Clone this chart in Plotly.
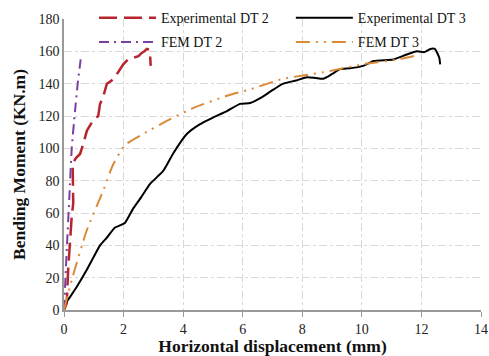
import plotly.graph_objects as go

# Experimental DT 2
exp2_x = [0, 0.05, 0.09, 0.14, 0.2, 0.26, 0.31, 0.3, 0.29, 0.4, 0.54, 0.65, 0.77, 0.9, 0.98, 1.15, 1.21, 1.3, 1.44, 1.6, 1.71, 1.85, 1.99, 2.15, 2.33, 2.5, 2.61, 2.7, 2.78, 2.86, 2.89, 2.91]
exp2_y = [0, 2, 4, 25, 45, 58, 66, 82, 90.5, 94, 96.5, 103, 111, 115, 117, 120, 127.5, 131, 140, 142, 144, 148, 152, 155, 156, 157, 159, 160, 161.5, 161, 158, 151]

# Experimental DT 3
exp3_x = [0, 0.05, 0.2, 0.45, 0.76, 1.0, 1.21, 1.45, 1.71, 1.9, 2.05, 2.33, 2.6, 2.89, 3.33, 3.67, 4.13, 4.57, 5.0, 5.47, 5.91, 6.25, 6.59, 7.0, 7.36, 7.8, 8.16, 8.45, 8.7, 9.0, 9.27, 9.6, 10.05, 10.4, 11.06, 11.5, 11.85, 12.1, 12.3, 12.45, 12.53, 12.6, 12.63]
exp3_y = [0, 4, 8, 15, 24.7, 33, 40, 45, 51, 52.5, 54, 63, 70, 78, 86, 97, 109, 115, 119, 123, 127.5, 128, 131, 136, 140, 142, 144, 143.5, 143, 146, 149, 149.5, 151, 154, 155, 158, 160, 159.5, 161.5, 161.5, 159, 156, 152]

# FEM DT 2
fem2_x = [0, 0.05, 0.1, 0.18, 0.26, 0.37, 0.46, 0.56]
fem2_y = [0, 20, 40, 70, 100, 123, 140, 155]

# FEM DT 3
fem3_x = [0, 0.26, 0.76, 1.32, 1.65, 2.05, 2.67, 3.45, 4.35, 5.47, 6.25, 7.36, 8.7, 10.05, 11.2, 11.96]
fem3_y = [0, 18.5, 49, 74, 90, 102, 109, 117, 125, 132.5, 136.5, 143, 147, 152, 155, 158]

FONT = "Liberation Serif, Times New Roman, serif"

fig = go.Figure()
fig.add_trace(go.Scatter(x=exp2_x, y=exp2_y, mode="lines", name="Experimental DT 2",
                         legend="legend", legendgroup="a",
                         line=dict(color="#B8242E", width=2.5, dash="18px,7px")))
fig.add_trace(go.Scatter(x=exp3_x, y=exp3_y, mode="lines", name="Experimental DT 3",
                         legend="legend2", legendgroup="c",
                         line=dict(color="#000000", width=2, shape="spline", smoothing=0.5)))
fig.add_trace(go.Scatter(x=fem2_x, y=fem2_y, mode="lines", name="FEM DT 2",
                         legend="legend", legendgroup="b",
                         line=dict(color="#7B3F9E", width=2, dash="10px,5px,2px,5px", shape="spline", smoothing=0.6)))
fig.add_trace(go.Scatter(x=fem3_x, y=fem3_y, mode="lines", name="FEM DT 3",
                         legend="legend2", legendgroup="d",
                         line=dict(color="#DB8A35", width=2, dash="14px,6px,2px,6px,2px,6px", shape="spline", smoothing=0.6)))

leg_common = dict(orientation="v", xanchor="left", yanchor="top",
                  bgcolor="rgba(255,255,255,0)", font=dict(family=FONT, size=14, color="#111"),
                  tracegroupgap=3, itemwidth=57)

fig.update_layout(
    width=489, height=356,
    margin=dict(l=64, r=8, t=19, b=46, autoexpand=False),
    paper_bgcolor="white", plot_bgcolor="white",
    font=dict(family=FONT, size=14, color="#222"),
    showlegend=True,
    legend=dict(x=0.072, y=1.058, **leg_common),
    legend2=dict(x=0.544, y=1.058, **leg_common),
    xaxis=dict(range=[0, 14], dtick=2, showgrid=True, gridcolor="#d9d9d9", griddash="8px,3px,3px,3px",
               gridwidth=1, showline=True, linecolor="#999", linewidth=1.5, ticks="outside",
               ticklen=5, tickcolor="#999", zeroline=False,
               title=dict(text="<b>Horizontal displacement (mm)</b>", font=dict(family=FONT, size=17.5, color="#111"), standoff=0),
               tickfont=dict(family=FONT, size=14, color="#222")),
    yaxis=dict(range=[0, 180], dtick=20, showgrid=True, gridcolor="#d9d9d9", griddash="8px,3px,3px,3px",
               gridwidth=1, showline=True, linecolor="#999", linewidth=1.5, ticks="",
               zeroline=False,
               title=dict(text="<b>Bending Moment (KN.m)</b>", font=dict(family=FONT, size=17.5, color="#111"), standoff=8),
               tickfont=dict(family=FONT, size=14, color="#222")),
)

fig.write_html("out.html")
